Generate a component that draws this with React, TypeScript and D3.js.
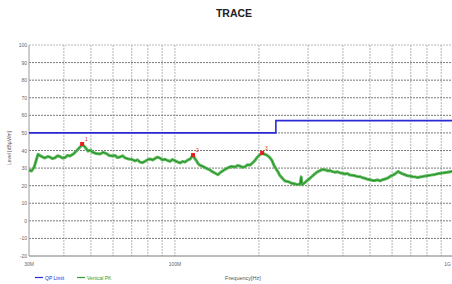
import { useEffect, useRef } from "react";
import * as d3 from "d3";

// frequency in MHz, level in dBuV/m
const TRACE_FREQ = [
  30, 30.6, 31.3, 32.3, 33.1, 34.2, 35.0, 35.7, 36.4, 37.2, 38.0, 38.7, 39.5, 40.4, 41.2, 42.1,
  43.4, 44.7, 46.1, 46.5, 47.6, 48.8, 49.8, 50.6, 52.2, 53.9, 55.3, 56.9, 58.2, 59.8, 61.0,
  62.2, 63.6, 64.9, 66.3, 68.0, 69.9, 72.0, 73.4, 75.0, 76.5, 78.2, 79.8, 81.5, 83.2, 84.9,
  86.6, 88.4, 90.2, 92.2, 94.1, 96.1, 98.0, 100, 102.1, 104.3, 106.5, 108.7, 111.0, 113.3,
  116.1, 117.6, 119.4, 121.0, 122.6, 125.4, 128.2, 130.8, 133.6, 135.5, 137.5, 140.0, 142.7,
  145.4, 148.3, 151.2, 154.1, 159.0, 164.3, 167.7, 171.2, 174.7, 178.4, 182.1, 186.0, 189.8,
  193.7, 196.5, 199.4, 202.3, 205.3, 208.7, 212.1, 215.6, 219.2, 222.8, 226.5, 230.3, 234.2,
  237.0, 240.0, 244.0, 248.2, 253.0, 258.0, 261.5, 265.0, 270.0, 275.0, 280.9, 283.5, 284.5,
  286.0, 289.0, 292.7, 298.0, 304.2, 311.0, 318.0, 324.0, 331.0, 338.0, 346.0, 353.0, 360.0,
  367.0, 375.0, 383.0, 391.0, 399.0, 407.0, 415.0, 424.0, 433.0, 442.0, 451.0, 461.0, 470.0,
  480.0, 490.0, 500.0, 510.0, 521.0, 532.0, 543.0, 555.0, 567.0, 580.0, 592.0, 604.0, 615.0,
  623.0, 631.0, 641.0, 654.0, 668.0, 682.0, 696.0, 711.0, 726.0, 741.0, 756.0, 778.0, 800.0,
  827.0, 855.0, 882.0, 910.0, 946.0, 984.0, 1000,
];
const TRACE_LEVEL = [
  28.9, 28.3, 30.5, 37.8, 36.8, 35.7, 36.6, 36.2, 35.4, 35.9, 37.0, 36.6, 35.7, 36.0, 37.2, 36.9,
  38.2, 40.3, 42.6, 43.4, 42.0, 39.6, 40.2, 39.1, 38.3, 38.0, 38.9, 38.2, 37.1, 36.9, 37.2,
  36.0, 36.3, 37.0, 35.8, 35.2, 35.0, 34.1, 34.7, 33.4, 33.1, 33.9, 34.8, 35.2, 34.6, 35.5,
  36.2, 35.7, 34.6, 35.0, 34.3, 33.8, 34.9, 34.2, 33.5, 32.9, 33.8, 33.4, 34.5, 35.1,
  37.4, 35.6, 34.2, 32.6, 31.7, 31.1, 30.3, 29.6, 28.9, 28.1, 27.6, 26.9, 26.2,
  27.5, 28.4, 29.3, 30.0, 30.9, 30.6, 31.5, 31.1, 30.4, 30.8, 31.9, 31.7, 33.0,
  34.4, 35.9, 36.9, 37.8, 38.4, 38.0, 37.6, 36.9, 35.8, 34.2, 31.5, 29.6, 27.8,
  26.1, 25.1, 23.8, 22.6, 22.4, 21.9, 21.4, 21.2, 20.9, 20.6, 21.0, 25.0, 21.4,
  20.5, 21.2, 21.8, 23.0, 24.1, 25.5, 26.8, 27.9, 28.6, 29.2, 29.0, 28.4, 28.6,
  28.0, 27.6, 27.9, 27.2, 27.0, 26.6, 26.9, 26.0, 25.9, 25.6, 25.2, 25.1, 24.5,
  24.2, 23.6, 23.4, 23.0, 22.9, 23.3, 22.7, 23.4, 23.8, 24.4, 25.4, 26.0, 26.7,
  27.4, 28.1, 27.4, 26.7, 26.2, 25.6, 25.5, 25.1, 25.0, 24.6, 24.9, 25.3, 25.6,
  26.0, 26.4, 26.9, 27.2, 27.6, 28.1, 28.3,
];

const LIMIT_FREQ = [30, 230, 230, 1000];
const LIMIT_LEVEL = [50, 50, 57, 57];

const PEAK_FREQ = [46.5, 116.1, 205.3];
const PEAK_LEVEL = [43.7, 37.4, 38.6];
const PEAK_LABELS = ["1", "2", "3"];

const Y_TICKS = [100, 90, 80, 70, 60, 50, 40, 30, 20, 10, 0, -10, -20];
const X_GRID = [40, 50, 60, 70, 80, 90, 100, 200, 300, 400, 500, 600, 700, 800, 900, 1000];
const X_LABELS = [30, 100, 1000];
const X_LABEL_TEXT = ["30M", "100M", "1G"];

const FONT = "'Liberation Sans', Arial, sans-serif";

export default function App() {
  const svgRef = useRef<SVGSVGElement>(null);

  useEffect(() => {
    if (!svgRef.current) return;
    const svg = d3.select(svgRef.current);
    svg.selectAll("*").remove();

    const x = d3.scaleLog().domain([30, 1000]).range([29, 454]);
    const y = d3.scaleLinear().domain([-20, 100]).range([256, 45]);

    svg.append("rect").attr("width", 452).attr("height", 284).attr("fill", "#fff");

    // title
    svg.append("text")
      .attr("x", 234).attr("y", 17)
      .attr("text-anchor", "middle")
      .attr("font-family", FONT).attr("font-weight", "bold").attr("font-size", 10.5)
      .attr("fill", "#222")
      .text("TRACE");

    // vertical grid
    svg.append("g").selectAll("line").data(X_GRID).join("line")
      .attr("x1", (d) => x(d)).attr("x2", (d) => x(d))
      .attr("y1", y(100)).attr("y2", y(-20))
      .attr("stroke", "#b4b4b4").attr("stroke-width", 1)
      .attr("stroke-dasharray", "2,1");

    // horizontal grid
    svg.append("g").selectAll("line").data(Y_TICKS).join("line")
      .attr("x1", x(30)).attr("x2", x(1000))
      .attr("y1", (d) => y(d)).attr("y2", (d) => y(d))
      .attr("stroke", (d) => (d === 100 ? "#bbb" : "#7a7a7a")).attr("stroke-width", 1)
      .attr("stroke-dasharray", (d) => (d === -20 ? null : "2,1"));

    // left frame
    svg.append("line")
      .attr("x1", x(30)).attr("x2", x(30)).attr("y1", y(100)).attr("y2", y(-20))
      .attr("stroke", "#9a9a9a");

    // y tick labels
    svg.append("g").selectAll("text").data(Y_TICKS).join("text")
      .attr("x", 27).attr("y", (d) => y(d) + 2)
      .attr("text-anchor", "end")
      .attr("font-family", FONT).attr("font-size", 5)
      .attr("fill", "#666")
      .text((d) => `${d}`);

    // x tick labels
    svg.append("g").selectAll("text").data(X_LABELS).join("text")
      .attr("x", (d) => Math.min(x(d), 451)).attr("y", 266)
      .attr("text-anchor", (d) => (d === 1000 ? "end" : "middle"))
      .attr("font-family", FONT).attr("font-size", 5)
      .attr("fill", "#666")
      .text((d, i) => X_LABEL_TEXT[i]);

    // axis titles
    svg.append("text")
      .attr("transform", "translate(11,148) rotate(-90)")
      .attr("text-anchor", "middle")
      .attr("font-family", FONT).attr("font-size", 5)
      .attr("fill", "#555")
      .text("Level [dBµV/m]");

    svg.append("text")
      .attr("x", 243).attr("y", 280)
      .attr("text-anchor", "middle")
      .attr("font-family", FONT).attr("font-size", 5.5)
      .attr("fill", "#555")
      .text("Frequency[Hz]");

    // limit line
    const limit = LIMIT_FREQ.map((f, i) => [f, LIMIT_LEVEL[i]] as [number, number]);
    svg.append("path")
      .datum(limit)
      .attr("fill", "none")
      .attr("stroke", "#2b2bd6")
      .attr("stroke-width", 1.6)
      .attr("d", d3.line<[number, number]>().x((d) => x(d[0])).y((d) => y(d[1])));

    // trace
    const trace = TRACE_FREQ.map((f, i) => [f, TRACE_LEVEL[i]] as [number, number]);
    const line = d3.line<[number, number]>().x((d) => x(d[0])).y((d) => y(d[1]));
    svg.append("path")
      .datum(trace)
      .attr("fill", "none")
      .attr("stroke", "#5cb85c")
      .attr("stroke-width", 3)
      .attr("stroke-linejoin", "round")
      .attr("d", line);
    svg.append("path")
      .datum(trace)
      .attr("fill", "none")
      .attr("stroke", "#1b8a1b")
      .attr("stroke-width", 0.9)
      .attr("d", line);

    // peak markers
    PEAK_FREQ.forEach((f, i) => {
      const px = x(f);
      const py = y(PEAK_LEVEL[i]);
      svg.append("rect")
        .attr("x", px - 2).attr("y", py - 2)
        .attr("width", 4).attr("height", 4)
        .attr("fill", "#e8201c");
      svg.append("text")
        .attr("x", px + 3).attr("y", py - 3)
        .attr("font-family", FONT).attr("font-size", 5)
        .attr("fill", "#e8201c")
        .text(PEAK_LABELS[i]);
    });

    // legend
    const legend = [
      { label: "QP Limit", color: "#2b2bd6", x0: 35 },
      { label: "Vertical PK", color: "#2e9e2e", x0: 77 },
    ];
    legend.forEach((l) => {
      svg.append("line")
        .attr("x1", l.x0).attr("x2", l.x0 + 8)
        .attr("y1", 277.5).attr("y2", 277.5)
        .attr("stroke", l.color).attr("stroke-width", 1.2);
      svg.append("text")
        .attr("x", l.x0 + 10).attr("y", 279.5)
        .attr("font-family", FONT).attr("font-size", 5)
        .attr("fill", l.color)
        .text(l.label);
    });
  }, []);

  return (
    <svg
      ref={svgRef}
      width={452}
      height={284}
      style={{ position: "fixed", left: 0, top: 0, display: "block" }}
    />
  );
}
